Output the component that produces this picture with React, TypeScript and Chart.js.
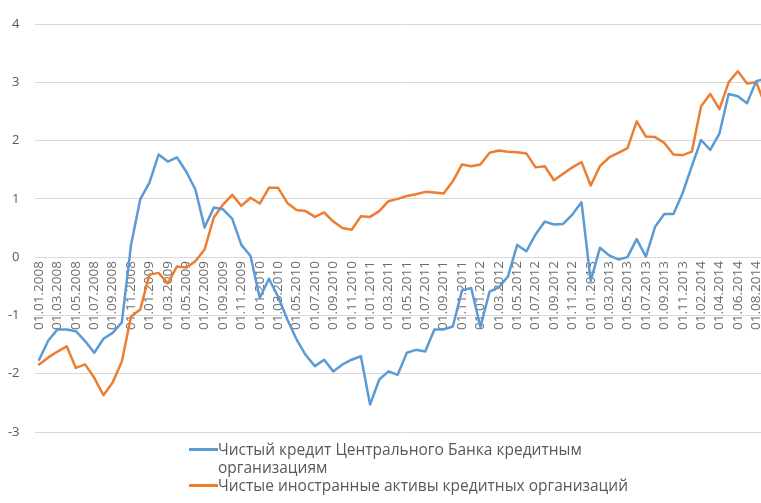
import React, { useEffect, useRef } from "react";
import { Chart, registerables } from "chart.js";

Chart.register(...registerables);

const categories = [
  "01.01.2008", "01.02.2008", "01.03.2008", "01.04.2008", "01.05.2008", "01.06.2008",
  "01.07.2008", "01.08.2008", "01.09.2008", "01.10.2008", "01.11.2008", "01.12.2008",
  "01.01.2009", "01.02.2009", "01.03.2009", "01.04.2009", "01.05.2009", "01.06.2009",
  "01.07.2009", "01.08.2009", "01.09.2009", "01.10.2009", "01.11.2009", "01.12.2009",
  "01.01.2010", "01.02.2010", "01.03.2010", "01.04.2010", "01.05.2010", "01.06.2010",
  "01.07.2010", "01.08.2010", "01.09.2010", "01.10.2010", "01.11.2010", "01.12.2010",
  "01.01.2011", "01.02.2011", "01.03.2011", "01.04.2011", "01.05.2011", "01.06.2011",
  "01.07.2011", "01.08.2011", "01.09.2011", "01.10.2011", "01.11.2011", "01.12.2011",
  "01.01.2012", "01.02.2012", "01.03.2012", "01.04.2012", "01.05.2012", "01.06.2012",
  "01.07.2012", "01.08.2012", "01.09.2012", "01.10.2012", "01.11.2012", "01.12.2012",
  "01.01.2013", "01.02.2013", "01.03.2013", "01.04.2013", "01.05.2013", "01.06.2013",
  "01.07.2013", "01.08.2013", "01.09.2013", "01.10.2013", "01.11.2013", "01.12.2013",
  "01.02.2014", "01.03.2014", "01.04.2014", "01.05.2014", "01.06.2014", "01.07.2014",
  "01.08.2014", "01.09.2014",
];

const creditCB = [
  -1.76, -1.43, -1.24, -1.24, -1.27, -1.44, -1.64, -1.40, -1.30, -1.12, 0.21, 0.99,
  1.28, 1.76, 1.64, 1.71, 1.47, 1.16, 0.51, 0.85, 0.82, 0.66, 0.21, 0.02,
  -0.70, -0.37, -0.68, -1.07, -1.41, -1.68, -1.87, -1.76, -1.96, -1.84, -1.76, -1.70,
  -2.53, -2.10, -1.96, -2.02, -1.64, -1.59, -1.62, -1.24, -1.24, -1.19, -0.57, -0.53,
  -1.20, -0.59, -0.52, -0.33, 0.21, 0.10, 0.39, 0.61, 0.56, 0.57, 0.73, 0.94,
  -0.41, 0.16, 0.03, -0.04, 0.00, 0.31, 0.01, 0.52, 0.74, 0.74, 1.10, 1.56,
  2.01, 1.84, 2.12, 2.80, 2.76, 2.64, 3.02, 3.06,
];

const foreignAssets = [
  -1.84, -1.72, -1.62, -1.53, -1.90, -1.84, -2.07, -2.37, -2.15, -1.79, -1.02, -0.90,
  -0.30, -0.27, -0.45, -0.16, -0.18, -0.07, 0.13, 0.68, 0.90, 1.07, 0.88, 1.02,
  0.92, 1.19, 1.19, 0.93, 0.81, 0.79, 0.69, 0.77, 0.61, 0.50, 0.47, 0.70,
  0.69, 0.79, 0.96, 1.00, 1.05, 1.08, 1.12, 1.11, 1.09, 1.30, 1.59, 1.56,
  1.59, 1.79, 1.83, 1.81, 1.80, 1.78, 1.54, 1.56, 1.32, 1.43, 1.54, 1.63,
  1.23, 1.56, 1.71, 1.79, 1.87, 2.33, 2.07, 2.06, 1.96, 1.76, 1.75, 1.81,
  2.59, 2.80, 2.54, 3.00, 3.19, 2.98, 3.00, 2.60,
];

const seriesNames = [
  "Чистый кредит Центрального Банка кредитным организациям",
  "Чистые иностранные активы кредитных организаций",
];

const seriesColors = ["#5B9BD5", "#ED7D31"];

const Y_MIN = -3;
const Y_MAX = 4;

export default function App() {
  const canvasRef = useRef<HTMLCanvasElement | null>(null);

  useEffect(() => {
    if (!canvasRef.current) return;
    const chart = new Chart(canvasRef.current, {
      type: "line",
      data: {
        labels: categories,
        datasets: [
          {
            label: seriesNames[0],
            data: creditCB,
            borderColor: seriesColors[0],
            backgroundColor: seriesColors[0],
            borderWidth: 2.5,
            pointRadius: 0,
            tension: 0,
            borderJoinStyle: "round",
            borderCapStyle: "round",
          },
          {
            label: seriesNames[1],
            data: foreignAssets,
            borderColor: seriesColors[1],
            backgroundColor: seriesColors[1],
            borderWidth: 2.5,
            pointRadius: 0,
            tension: 0,
            borderJoinStyle: "round",
            borderCapStyle: "round",
          },
        ],
      },
      options: {
        responsive: false,
        animation: false,
        devicePixelRatio: 1,
        layout: { padding: { top: 24, bottom: 71, left: 0, right: 20 } },
        plugins: { legend: { display: false }, tooltip: { enabled: false } },
        scales: {
          x: {
            type: "category",
            position: { y: 0 } as any,
            offset: true,
            grid: { display: false, drawTicks: false },
            border: { display: false },
            ticks: {
              autoSkip: false,
              maxRotation: 90,
              minRotation: 90,
              padding: 4,
              color: "#6b6b6b",
              font: { family: "'Open Sans'", size: 13.5 },
              callback: (_v: any, i: number) => (i % 2 === 0 ? categories[i] : ""),
            },
          },
          y: {
            min: Y_MIN,
            max: Y_MAX,
            grid: { color: "#d9d9d9", drawTicks: false, lineWidth: 1 },
            border: { display: false },
            ticks: {
              stepSize: 1,
              padding: 15,
              color: "#595959",
              font: { family: "'Open Sans'", size: 13 },
            },
            afterFit: (s: any) => {
              s.width = 34.5;
            },
          },
        },
      },
    });
    return () => chart.destroy();
  }, []);

  const legendText: React.CSSProperties = {
    width: 445,
    font: "15.5px 'Open Sans'",
    lineHeight: "18px",
    color: "#595959",
  };

  return (
    <div
      style={{
        position: "fixed",
        left: 0,
        top: 0,
        width: 761,
        height: 503,
        overflow: "hidden",
        background: "#fff",
      }}
    >
      <div style={{ position: "relative", width: 790, height: 503 }}>
        <canvas ref={canvasRef} width={790} height={503} style={{ width: 790, height: 503, display: "block" }} />
        <div style={{ position: "absolute", left: 189, top: 440 }}>
          {seriesNames.map((name, i) => (
            <div key={name} style={{ display: "flex", alignItems: "flex-start" }}>
              <span
                style={{
                  display: "inline-block",
                  width: 29,
                  height: 2.5,
                  marginTop: 8,
                  background: seriesColors[i],
                  flex: "none",
                }}
              />
              <span style={legendText}>{name}</span>
            </div>
          ))}
        </div>
      </div>
    </div>
  );
}
